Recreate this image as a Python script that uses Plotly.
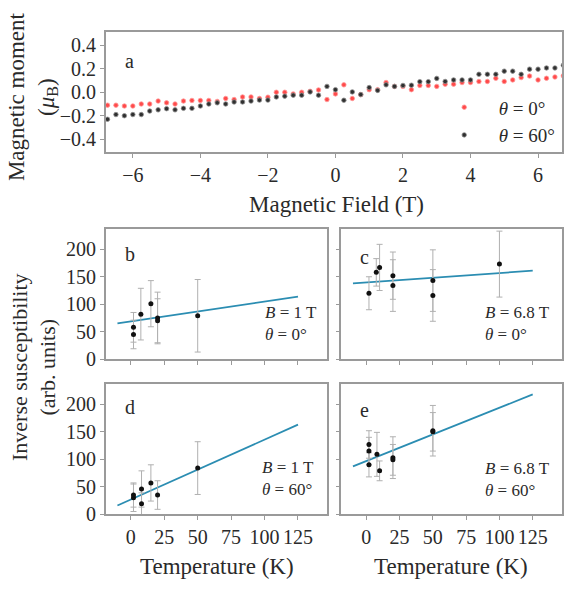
import plotly.graph_objects as go

# ---------------- data ----------------
field = [-6.75, -6.5, -6.25, -6.0, -5.75, -5.5, -5.25, -5.0, -4.75, -4.5, -4.25, -4.0, -3.75, -3.5,
         -3.25, -3.0, -2.75, -2.5, -2.25, -2.0, -1.75, -1.5, -1.25, -1.0, -0.75, -0.5, -0.25, 0.0,
         0.25, 0.5, 0.75, 1.0, 1.25, 1.5, 1.75, 2.0, 2.25, 2.5, 2.75, 3.0, 3.25, 3.5, 3.75, 4.0,
         4.25, 4.5, 4.75, 5.0, 5.25, 5.5, 5.75, 6.0, 6.25, 6.5, 6.75]
moment_0 = [-0.11, -0.11, -0.117, -0.117, -0.10, -0.10, -0.075, -0.09, -0.10, -0.075, -0.07, -0.07,
            -0.07, -0.078, -0.053, -0.062, -0.04, -0.04, -0.053, -0.042, 0.0, 0.0, -0.014, 0.0,
            0.008, 0.02, -0.062, -0.014, 0.063, -0.053, -0.02, 0.022, 0.022, 0.083, 0.05, 0.05,
            0.022, 0.058, 0.058, 0.05, 0.069, 0.069, 0.083, 0.083, 0.092, 0.092, 0.119, 0.092,
            0.105, 0.125, 0.138, 0.105, 0.119, 0.13, 0.14]
moment_60 = [-0.23, -0.19, -0.20, -0.19, -0.19, -0.16, -0.15, -0.14, -0.15, -0.137, -0.137, -0.117,
             -0.10, -0.09, -0.10, -0.083, -0.083, -0.075, -0.067, -0.067, -0.04, -0.033, -0.025,
             -0.025, 0.003, -0.025, 0.05, 0.022, -0.068, 0.003, -0.02, 0.04, 0.016, 0.063, 0.05,
             0.058, 0.06, 0.09, 0.09, 0.118, 0.092, 0.105, 0.105, 0.105, 0.153, 0.153, 0.153, 0.18,
             0.18, 0.153, 0.197, 0.197, 0.207, 0.207, 0.23]

T_b = [2, 2, 7.5, 15, 20, 20, 50]
chi_b = [58, 45, 82, 101, 75, 70, 79]
err_b = [27, 26, 47, 42, 47, 40, 66]

T_c = [2, 7.5, 10, 20, 20, 50, 50, 100]
chi_c = [120, 158, 167, 152, 134, 143, 116, 173]
err_c = [30, 25, 42, 43, 47, 56, 47, 60]

T_d = [2, 2, 8, 8, 15, 20, 50]
chi_d = [30, 35, 46, 19, 57, 35, 84]
err_d = [25, 22, 33, 20, 33, 26, 48]

T_e = [2, 2, 2, 8, 10, 20, 20, 50, 50]
chi_e = [127, 115, 90, 109, 79, 103, 99, 152, 150]
err_e = [25, 25, 22, 40, 18, 38, 28, 46, 35]

fit_T = [-10, 125]
fit_b = [65, 114]
fit_c = [138, 161]
fit_d = [16, 163]
fit_e = [87, 218]

W, H = 564, 592
FONT = "Liberation Serif, Times New Roman, Tinos, DejaVu Serif, serif"
TXT = "#2a2a2a"
FRAME = "#9a9a9a"
FIT = "#2b8db2"
NB = "\u00a0\u00a0"

fig = go.Figure()

# panel a
fig.add_trace(go.Scatter(x=field, y=moment_0, mode="markers", name=NB + "<i>θ</i> = 0°",
                         marker=dict(color="#ff4a4a", size=4.5, symbol="circle",
                                     line=dict(color="#ff9a9a", width=0.8)),
                         xaxis="x", yaxis="y"))
fig.add_trace(go.Scatter(x=field, y=moment_60, mode="markers", name=NB + "<i>θ</i> = 60°",
                         marker=dict(color="#303030", size=4.5, symbol="circle",
                                     line=dict(color="#909090", width=0.8)),
                         xaxis="x", yaxis="y"))

panels = [("2", T_b, chi_b, err_b, fit_b), ("3", T_c, chi_c, err_c, fit_c),
          ("4", T_d, chi_d, err_d, fit_d), ("5", T_e, chi_e, err_e, fit_e)]
for ax, T, chi, err, fit in panels:
    fig.add_trace(go.Scatter(x=fit_T, y=fit, mode="lines", showlegend=False,
                             line=dict(color=FIT, width=1.8),
                             xaxis="x" + ax, yaxis="y" + ax))
    fig.add_trace(go.Scatter(x=T, y=chi, mode="markers", showlegend=False,
                             marker=dict(color="#111111", size=5),
                             error_y=dict(type="data", array=err, visible=True,
                                          color="#b0b0b0", thickness=1, width=3),
                             xaxis="x" + ax, yaxis="y" + ax))

common = dict(showline=True, mirror=True, linecolor=FRAME, linewidth=1.5,
              ticks="outside", ticklen=4, tickcolor=FRAME, tickwidth=1,
              showgrid=False, zeroline=False,
              tickfont=dict(family=FONT, size=20, color=TXT))

xl = [106 / W, 328 / W]
xr = [342 / W, 563 / W]
ya = [1 - 155 / H, 1 - 33 / H]
yt = [1 - 366 / H, 1 - 233 / H]
yb = [1 - 524 / H, 1 - 391 / H]

T_range = [-18.7, 147]
chi_range = [0, 237.5]
T_ticks = [0, 25, 50, 75, 100, 125]
chi_ticks = [0, 50, 100, 150, 200]

fig.update_layout(
    width=W, height=H, margin=dict(l=0, r=0, t=0, b=0),
    paper_bgcolor="white", plot_bgcolor="white",
    font=dict(family=FONT, color=TXT),
    xaxis=dict(domain=[106 / W, 563 / W], anchor="y", range=[-6.8, 6.71],
               tickvals=[-6, -4, -2, 0, 2, 4, 6], **common),
    yaxis=dict(domain=ya, anchor="x", range=[-0.51, 0.51],
               tickvals=[-0.4, -0.2, 0, 0.2, 0.4], tickformat=".1f", **common),
    xaxis2=dict(domain=xl, anchor="y2", range=T_range, tickvals=T_ticks,
                showticklabels=False, **common),
    yaxis2=dict(domain=yt, anchor="x2", range=chi_range, tickvals=chi_ticks, **common),
    xaxis3=dict(domain=xr, anchor="y3", range=T_range, tickvals=T_ticks,
                showticklabels=False, **common),
    yaxis3=dict(domain=yt, anchor="x3", range=chi_range, tickvals=chi_ticks,
                showticklabels=False, **common),
    xaxis4=dict(domain=xl, anchor="y4", range=T_range, tickvals=T_ticks, **common),
    yaxis4=dict(domain=yb, anchor="x4", range=chi_range, tickvals=chi_ticks, **common),
    xaxis5=dict(domain=xr, anchor="y5", range=T_range, tickvals=T_ticks, **common),
    yaxis5=dict(domain=yb, anchor="x5", range=chi_range, tickvals=chi_ticks,
                showticklabels=False, **common),
    legend=dict(x=(464 - 24) / W, y=1 - 90 / H, xanchor="left", yanchor="top",
                bgcolor="rgba(0,0,0,0)", font=dict(family=FONT, size=19, color=TXT),
                itemwidth=40, tracegroupgap=0),
    showlegend=True,
)


def ann(text, px, py, size=20, xanchor="center", angle=0, align="center"):
    fig.add_annotation(text=text, x=px / W, y=1 - py / H, xref="paper", yref="paper",
                       showarrow=False, xanchor=xanchor, yanchor="middle", textangle=angle,
                       font=dict(family=FONT, size=size, color=TXT), align=align)


ann("Magnetic moment<br>(<i>μ</i><sub>B</sub>)", 33, 98, size=23, angle=-90)
ann("Inverse susceptibility<br>(arb. units)", 34, 374, size=22, angle=-90)
ann("Magnetic Field (T)", 337, 208, size=23)
ann("Temperature (K)", 217, 577, size=23)
ann("Temperature (K)", 452, 577, size=23)

ann("a", 130, 62)
ann("b", 130, 259)
ann("c", 365, 262)
ann("d", 130, 415)
ann("e", 365, 418)

ann("<i>B</i> = 1 T<br><i>θ</i> = 0°", 263, 330, size=17, xanchor="left", align="left")
ann("<i>B</i> = 6.8 T<br><i>θ</i> = 0°", 484, 330, size=17, xanchor="left", align="left")
ann("<i>B</i> = 1 T<br><i>θ</i> = 60°", 260, 488, size=17, xanchor="left", align="left")
ann("<i>B</i> = 6.8 T<br><i>θ</i> = 60°", 484, 489, size=17, xanchor="left", align="left")

fig.write_html("out.html")
